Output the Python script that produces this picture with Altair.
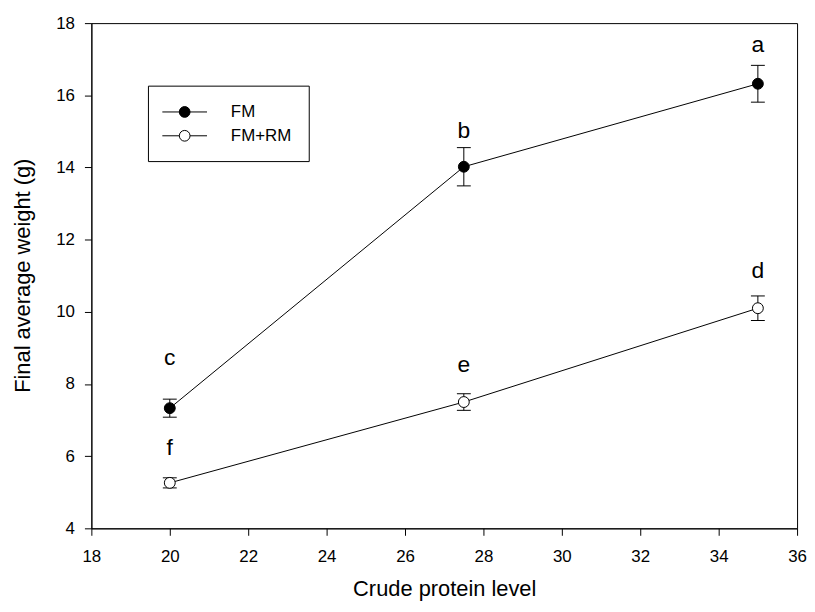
import altair as alt
import pandas as pd

protein = [20, 27.5, 35]
fm_mean = [7.33, 14.02, 16.32]
fm_err = [0.25, 0.53, 0.51]
rm_mean = [5.26, 7.50, 10.10]
rm_err = [0.14, 0.23, 0.34]
fm_letters = ["c", "b", "a"]
fm_letter_y = [8.72, 15.02, 17.40]
rm_letters = ["f", "e", "d"]
rm_letter_y = [6.22, 8.52, 11.14]
series = ["FM", "FM+RM"]

rows = []
for i, x in enumerate(protein):
    rows.append(dict(Series="FM", x=x, y=fm_mean[i], lo=fm_mean[i] - fm_err[i],
                     hi=fm_mean[i] + fm_err[i], letter=fm_letters[i], ly=fm_letter_y[i]))
for i, x in enumerate(protein):
    rows.append(dict(Series="FM+RM", x=x, y=rm_mean[i], lo=rm_mean[i] - rm_err[i],
                     hi=rm_mean[i] + rm_err[i], letter=rm_letters[i], ly=rm_letter_y[i]))
df = pd.DataFrame(rows)

FONT = "Liberation Sans"

xscale = alt.Scale(domain=[18, 36], nice=False, zero=False)
yscale = alt.Scale(domain=[4, 18], nice=False, zero=False)

xenc = alt.X("x:Q", scale=xscale,
             axis=alt.Axis(values=list(range(18, 37, 2)), title="Crude protein level",
                           titleX=355.5, titleY=68, titleBaseline="alphabetic",
                           labelPadding=13, labelFlush=False))
yenc = alt.Y("y:Q", scale=yscale,
             axis=alt.Axis(values=list(range(4, 19, 2)), title="Final average weight (g)",
                           titleX=-62, titleY=254, titleBaseline="alphabetic",
                           labelPadding=10))

base = alt.Chart(df)

lines = base.mark_line(color="black", strokeWidth=1).encode(
    x=xenc, y=yenc, detail="Series:N")

bars = base.mark_rule(color="black", strokeWidth=1).encode(
    x="x:Q", y="lo:Q", y2="hi:Q")
cap_lo = base.mark_tick(orient="horizontal", size=14, thickness=1, color="black", opacity=1).encode(
    x="x:Q", y="lo:Q")
cap_hi = base.mark_tick(orient="horizontal", size=14, thickness=1, color="black", opacity=1).encode(
    x="x:Q", y="hi:Q")

pts_fm = base.transform_filter(alt.datum.Series == "FM").mark_point(
    shape="circle", size=120, filled=True, fill="black", stroke="black", strokeWidth=1, opacity=1
).encode(x="x:Q", y="y:Q")
pts_rm = base.transform_filter(alt.datum.Series == "FM+RM").mark_point(
    shape="circle", size=120, filled=True, fill="white", stroke="black", strokeWidth=1, opacity=1
).encode(x="x:Q", y="y:Q")

letters = base.mark_text(font=FONT, fontSize=23, color="black", baseline="middle").encode(
    x="x:Q", y="ly:Q", text="letter:N")

path_fm = ("M -2.5 0 L 2.5 0 M 0.6 0 A 0.6 0.6 0 1 1 -0.6 0 "
           "A 0.6 0.6 0 1 1 0.6 0 Z")
path_rm = ("M -2.5 0 L -0.6 0 M 0.6 0 L 2.5 0 M 0.6 0 A 0.6 0.6 0 1 1 -0.6 0 "
           "A 0.6 0.6 0 1 1 0.6 0 Z")

leg_props = dict(
    title=None, orient="none", legendX=57, legendY=63,
    strokeColor="black", fillColor="white", padding=17, cornerRadius=0,
    symbolSize=324, symbolOffset=10.5, labelOffset=37, rowPadding=6,
    symbolStrokeWidth=1, symbolOpacity=1,
    labelFont=FONT, labelFontSize=17, labelColor="black",
    labelExpr="datum.label + '       '", labelLimit=300,
)

legend_layer = base.transform_filter("false").mark_point(
    filled=True, strokeWidth=1, opacity=1, size=324
).encode(
    shape=alt.Shape("Series:N", scale=alt.Scale(domain=series, range=[path_fm, path_rm]),
                    legend=alt.Legend(**leg_props)),
    fill=alt.Fill("Series:N", scale=alt.Scale(domain=series, range=["black", "white"]),
                  legend=alt.Legend(**leg_props)),
    stroke=alt.Stroke("Series:N", scale=alt.Scale(domain=series, range=["black", "black"]),
                      legend=alt.Legend(**leg_props)),
)

chart = alt.layer(lines, bars, cap_lo, cap_hi, pts_fm, pts_rm, letters, legend_layer).properties(
    width=711, height=509,
    autosize="none",
    background="white",
    padding={"left": 84, "top": 13, "right": 10, "bottom": 75},
).configure_view(stroke="black", strokeWidth=1).configure_axis(
    grid=False, domainColor="black", domainWidth=1, tickColor="black", tickWidth=1,
    tickSize=7, labelFont=FONT, labelFontSize=17, labelColor="black",
    titleFont=FONT, titleFontSize=22, titleFontWeight="normal", titleColor="black",
)

chart.save("out.html", embed_options={"renderer": "svg", "actions": False})
